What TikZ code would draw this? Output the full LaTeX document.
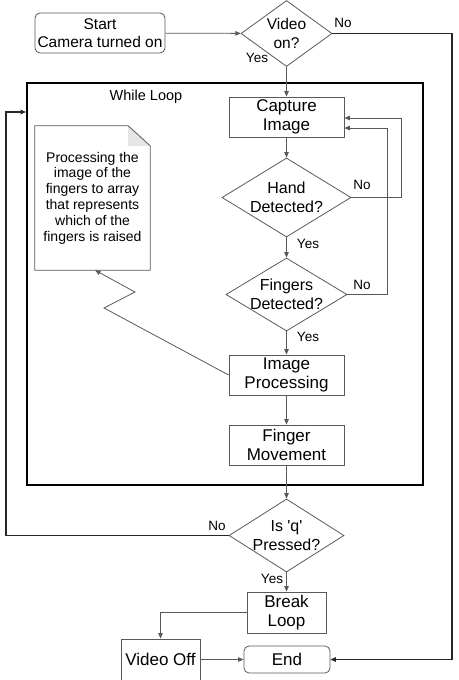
\documentclass[tikz,border=0pt]{standalone}
\usepackage{fontspec}
\setmainfont{Liberation Sans}
\usetikzlibrary{arrows.meta, positioning, shapes.geometric, calc}

\begin{document}
\begin{tikzpicture}[
        x=1pt, y=-1pt,
        line/.style={draw=black!65, line width=0.8pt},
        arrow/.style={line, -{Triangle[length=5.5pt,width=4.5pt]}},
        process/.style={draw=black!65, line width=0.8pt, rectangle, minimum width=115pt, minimum height=40pt,
            inner sep=0pt, align=center, font=\fontsize{17}{19}\selectfont},
        startstop/.style={process, rounded corners=5pt},
        decision/.style={draw=black!65, line width=0.8pt, diamond, inner sep=0pt},
        dtext/.style={align=center, inner sep=0pt, font=\fontsize{16}{19}\selectfont},
        tag/.style={inner sep=0pt, font=\fontsize{13.5}{15}\selectfont}
    ]
        \useasboundingbox (0,0) rectangle (458,680);

        % main column
        \node[startstop, minimum width=130pt, font=\fontsize{15.5}{18}\selectfont] (start) at (100,33) {Start\\Camera turned on};
        \node[decision, minimum width=91pt, minimum height=66pt,
            label={[dtext, font=\fontsize{15.5}{19}\selectfont]center:Video\\on?}] (video) at (286.5,33.5) {};
        \node[process] (capture) at (286.5,117) {Capture\\Image};
        \node[decision, minimum width=129pt, minimum height=79pt,
            label={[dtext]center:Hand\\Detected?}] (hand) at (286.5,197.5) {};
        \node[decision, minimum width=121pt, minimum height=73pt,
            label={[dtext]center:Fingers\\Detected?}] (fingers) at (286.5,294.5) {};
        \node[process] (imgproc) at (286.5,375) {Image\\Processing};
        \node[process] (fingermv) at (286.5,445) {Finger\\Movement};
        \node[decision, minimum width=115pt, minimum height=73pt,
            label={[dtext]center:Is \textquotesingle q\textquotesingle\\Pressed?}] (isq) at (286.5,535.5) {};
        \node[process, minimum width=79pt, minimum height=41pt] (breakloop) at (286.5,612.5) {Break\\Loop};
        \node[process, minimum width=79pt, minimum height=41pt] (videooff) at (160.5,659.5) {Video Off};
        \node[startstop, minimum width=86pt, minimum height=27pt] (end) at (287,659.5) {End};

        % while loop frame
        \node[draw, line width=2pt, minimum width=396pt, minimum height=402pt, inner sep=0pt] (whilebox) at (225,284) {};
        \node[font=\fontsize{14.5}{17}\selectfont, inner sep=0pt] (whilelabel) at (146,97) {While Loop};

        % note
        \node[minimum width=115pt, minimum height=144pt, inner sep=0pt, align=center,
            font=\fontsize{14}{15.8}\selectfont] (note) at (92.5,198)
            {Processing the\\image of the\\fingers to array\\that represents\\which of the\\fingers is raised};
        \fill[black!10] ([xshift=-22pt]note.north east) -- ([xshift=-22pt,yshift=-20pt]note.north east)
            -- ([yshift=-20pt]note.north east) -- cycle;
        \draw[line] (note.north west) -- ([xshift=-22pt]note.north east) -- ([yshift=-20pt]note.north east)
            -- (note.south east) -- (note.south west) -- cycle;

        % branch labels
        \node[tag] (videono) at (343,23) {No};
        \node[tag] (videoyes) at (257,58) {Yes};
        \node[tag] (handno) at (362,185) {No};
        \node[tag] (handyes) at (308,244) {Yes};
        \node[tag] (fingno) at (362,285) {No};
        \node[tag] (fingyes) at (308,337) {Yes};
        \node[tag] (isqno) at (217,526) {No};
        \node[tag] (isqyes) at (272,579) {Yes};

        \coordinate (rightturn) at (452,33.5);
        \coordinate (handback) at (401,118);
        \coordinate (fingback) at (387,128);
        \coordinate (backleft) at (6,112);
        \coordinate (zigA) at (104,308);
        \coordinate (zigB) at (135,292);

        \foreach \a/\b in {start/video, video/capture, capture/hand, hand/fingers, fingers/imgproc,
                imgproc/fingermv, fingermv/isq, isq/breakloop, videooff/end} {
            \draw[arrow] (\a) -- (\b);
        }

        \draw[arrow] (hand.east) -| (handback) -- (handback -| capture.east);
        \draw[arrow] (fingers.east) -| (fingback) -- (fingback -| capture.east);
        \draw[arrow] (breakloop.west) -| (videooff.north);
        \draw[arrow] (imgproc.west) -- (zigA) -- (zigB) -- ([xshift=2.5pt]note.south);
        \draw[arrow, draw=black!85, line width=1.2pt] (isq.west) -| (backleft) -- (backleft -| whilebox.west);
        \draw[arrow, draw=black!85, line width=1.2pt] (video.east) -- (rightturn) |- (end.east);
    \end{tikzpicture}
\end{document}
